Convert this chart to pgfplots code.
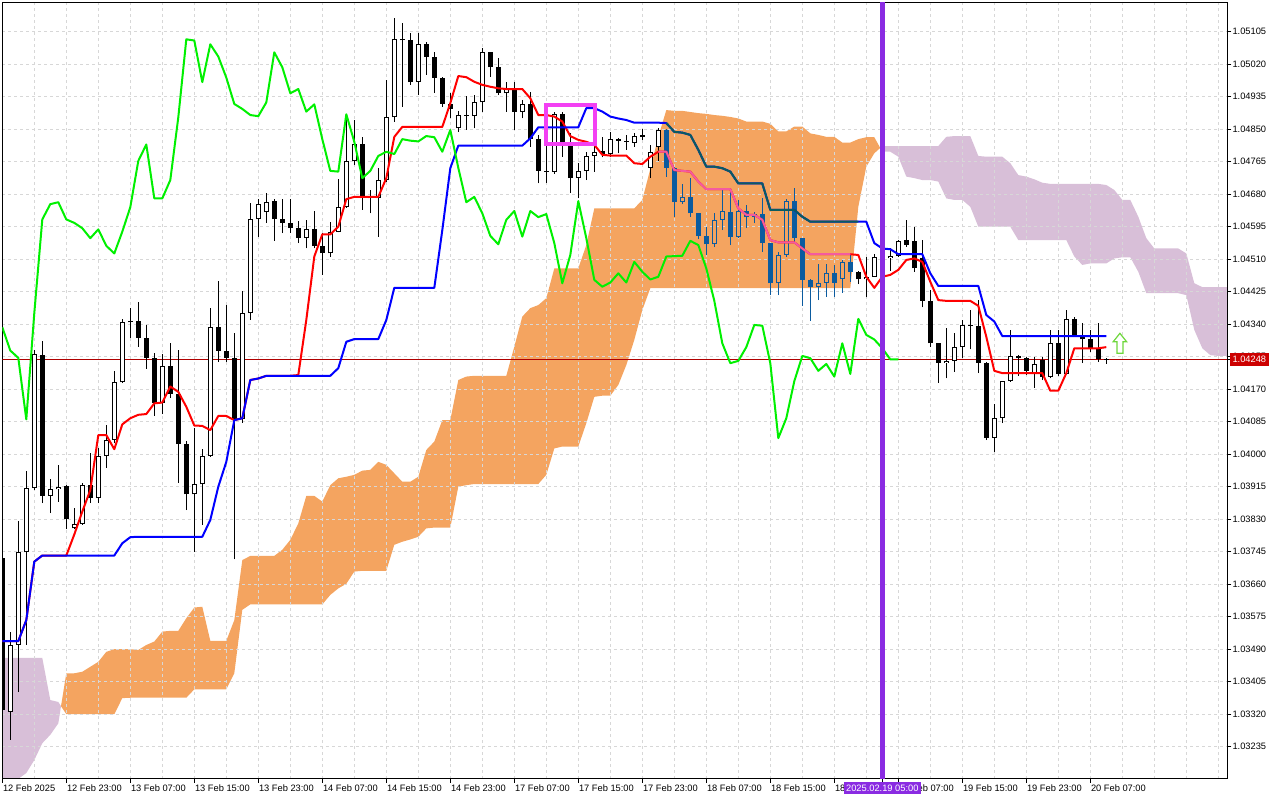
\documentclass[border=0pt]{standalone}
\usepackage{fontspec}
\setmainfont{Liberation Sans}
\usepackage{pgfplots}
\usepackage{pgfplotstable}
\pgfplotsset{compat=1.18}

\definecolor{sandy}{RGB}{244,164,96}
\definecolor{lav}{RGB}{216,191,216}
\definecolor{cblue}{RGB}{11,91,159}
\definecolor{pinkl}{RGB}{244,91,159}
\definecolor{teall}{RGB}{11,91,96}
\definecolor{chik}{RGB}{0,240,0}
\definecolor{vline}{RGB}{138,43,226}
\definecolor{rectm}{RGB}{243,64,243}
\definecolor{pline}{RGB}{175,0,0}
\definecolor{pbox}{RGB}{204,0,0}
\definecolor{gridc}{RGB}{215,215,215}
\definecolor{arrowg}{RGB}{110,215,60}

\pgfdeclareplotmark{uparrow}{%
  \pgfpathmoveto{\pgfqpoint{0pt}{10pt}}%
  \pgfpathlineto{\pgfqpoint{6.7pt}{1.6pt}}%
  \pgfpathlineto{\pgfqpoint{3pt}{1.6pt}}%
  \pgfpathlineto{\pgfqpoint{3pt}{-10pt}}%
  \pgfpathlineto{\pgfqpoint{-3pt}{-10pt}}%
  \pgfpathlineto{\pgfqpoint{-3pt}{1.6pt}}%
  \pgfpathlineto{\pgfqpoint{-6.7pt}{1.6pt}}%
  \pgfpathclose
  \pgfusepathqfillstroke}

% EURUSD H1 bullish candles (close >= open): bar, open, high, low, close
\pgfplotstableread{
k o h l c
1 1.03327 1.03536 1.03253 1.03501
2 1.03501 1.03825 1.03378 1.03743
3 1.03743 1.03956 1.03501 1.03911
4 1.03911 1.04273 1.03906 1.04261
6 1.03891 1.03935 1.03846 1.03908
7 1.03908 1.03972 1.03876 1.03915
9 1.03806 1.03859 1.03804 1.03817
10 1.03817 1.03925 1.03815 1.03919
12 1.03885 1.04016 1.03872 1.03995
13 1.03995 1.04076 1.03965 1.04037
14 1.04037 1.04218 1.04028 1.04188
15 1.04188 1.04354 1.04186 1.04345
20 1.04135 1.04262 1.04105 1.04231
24 1.03895 1.04069 1.03745 1.03921
25 1.03921 1.04014 1.03815 1.03995
26 1.03995 1.04382 1.03993 1.04332
30 1.04091 1.04427 1.04082 1.04369
31 1.04369 1.04656 1.04351 1.04614
32 1.04614 1.04667 1.04569 1.04654
33 1.04633 1.04682 1.04605 1.04659
38 1.04565 1.04612 1.04538 1.04588
41 1.04525 1.04608 1.04517 1.04582
42 1.04582 1.04720 1.04580 1.04646
43 1.04646 1.04887 1.04645 1.04767
44 1.04767 1.04874 1.04756 1.04810
47 1.04669 1.04748 1.04569 1.04717
48 1.04717 1.04979 1.04713 1.04881
49 1.04881 1.05140 1.04870 1.05085
52 1.04973 1.05101 1.04939 1.05072
57 1.04852 1.04898 1.04843 1.04887
59 1.04884 1.04939 1.04852 1.04920
60 1.04920 1.05063 1.04896 1.05051
63 1.04944 1.04974 1.04896 1.04955
65 1.04896 1.04926 1.04878 1.04915
69 1.04739 1.04896 1.04733 1.04889
72 1.04722 1.04761 1.04669 1.04741
73 1.04741 1.04791 1.04717 1.04780
74 1.04780 1.04817 1.04739 1.04791
76 1.04785 1.04843 1.04776 1.04824
79 1.04815 1.04839 1.04804 1.04832
81 1.04749 1.04809 1.04722 1.04791
82 1.04803 1.04852 1.04767 1.04848
85 1.04659 1.04707 1.04654 1.04673
89 1.04549 1.04630 1.04543 1.04613
90 1.04613 1.04691 1.04586 1.04636
92 1.04569 1.04665 1.04565 1.04636
94 1.04620 1.04634 1.04604 1.04628
97 1.04447 1.04530 1.04416 1.04521
98 1.04521 1.04667 1.04517 1.04662
102 1.04438 1.04497 1.04403 1.04449
103 1.04449 1.04497 1.04412 1.04473
105 1.04457 1.04508 1.04422 1.04503
108 1.04457 1.04517 1.04410 1.04464
109 1.04464 1.04523 1.04463 1.04517
110 1.04517 1.04535 1.04500 1.04518
111 1.04512 1.04538 1.04480 1.04519
112 1.04519 1.04560 1.04517 1.04558
118 1.04238 1.04329 1.04198 1.04244
119 1.04244 1.04316 1.04216 1.04280
120 1.04280 1.04351 1.04251 1.04338
124 1.04042 1.04131 1.04007 1.04094
125 1.04094 1.04192 1.04081 1.04191
126 1.04191 1.04325 1.04189 1.04257
129 1.04212 1.04255 1.04174 1.04236
131 1.04203 1.04325 1.04198 1.04290
133 1.04210 1.04377 1.04209 1.04354
}\bull

% bearish candles (close < open)
\pgfplotstableread{
k o h l c
0 1.03729 1.03734 1.03318 1.03331
5 1.04259 1.04296 1.03872 1.03891
8 1.03917 1.03920 1.03804 1.03830
11 1.03919 1.04003 1.03872 1.03885
16 1.04348 1.04382 1.04304 1.04345
17 1.04348 1.04397 1.04281 1.04305
18 1.04305 1.04338 1.04223 1.04252
19 1.04252 1.04265 1.04101 1.04135
21 1.04231 1.04291 1.04148 1.04157
22 1.04157 1.04273 1.03925 1.04026
23 1.04026 1.04035 1.03854 1.03895
27 1.04332 1.04453 1.04242 1.04271
28 1.04271 1.04390 1.04242 1.04252
29 1.04252 1.04317 1.03725 1.04091
34 1.04662 1.04667 1.04558 1.04614
35 1.04614 1.04667 1.04578 1.04605
36 1.04605 1.04667 1.04579 1.04591
37 1.04591 1.04611 1.04552 1.04565
39 1.04588 1.04636 1.04538 1.04545
40 1.04545 1.04578 1.04469 1.04525
45 1.04810 1.04830 1.04639 1.04669
46 1.04675 1.04691 1.04630 1.04669
50 1.05086 1.05127 1.04909 1.05082
51 1.05082 1.05101 1.04966 1.04973
53 1.05072 1.05079 1.04992 1.05040
54 1.05040 1.05053 1.04945 1.04985
55 1.04985 1.04986 1.04909 1.04916
56 1.04916 1.04944 1.04878 1.04903
58 1.04887 1.04937 1.04848 1.04884
61 1.05051 1.05053 1.04987 1.05012
62 1.05012 1.05035 1.04939 1.04944
64 1.04955 1.04974 1.04848 1.04896
66 1.04915 1.04948 1.04804 1.04824
67 1.04824 1.04835 1.04708 1.04741
68 1.04741 1.04822 1.04710 1.04739
70 1.04889 1.04896 1.04778 1.04817
71 1.04809 1.04839 1.04684 1.04722
75 1.04794 1.04829 1.04776 1.04785
77 1.04824 1.04827 1.04787 1.04820
78 1.04820 1.04835 1.04796 1.04818
80 1.04835 1.04850 1.04822 1.04829
83 1.04848 1.04850 1.04726 1.04749
84 1.04749 1.04752 1.04621 1.04659
86 1.04673 1.04722 1.04621 1.04630
87 1.04630 1.04631 1.04562 1.04571
88 1.04571 1.04595 1.04521 1.04549
91 1.04633 1.04691 1.04547 1.04569
93 1.04636 1.04652 1.04591 1.04620
95 1.04628 1.04669 1.04530 1.04552
96 1.04552 1.04553 1.04416 1.04447
99 1.04662 1.04695 1.04552 1.04565
100 1.04565 1.04566 1.04388 1.04456
101 1.04456 1.04458 1.04349 1.04438
104 1.04473 1.04495 1.04412 1.04449
106 1.04503 1.04521 1.04451 1.04477
107 1.04477 1.04479 1.04445 1.04457
113 1.04560 1.04613 1.04543 1.04547
114 1.04558 1.04595 1.04477 1.04486
115 1.04512 1.04560 1.04384 1.04401
116 1.04401 1.04429 1.04281 1.04290
117 1.04290 1.04292 1.04187 1.04238
121 1.04338 1.04377 1.04274 1.04336
122 1.04336 1.04403 1.04212 1.04238
123 1.04238 1.04242 1.04037 1.04042
127 1.04257 1.04259 1.04205 1.04251
128 1.04251 1.04255 1.04207 1.04218
130 1.04246 1.04255 1.04194 1.04203
132 1.04290 1.04325 1.04205 1.04210
134 1.04354 1.04360 1.04307 1.04312
135 1.04312 1.04342 1.04238 1.04300
136 1.04300 1.04325 1.04268 1.04277
137 1.04277 1.04342 1.04242 1.04248
138 1.04249 1.04251 1.04236 1.04248
}\bear

% Tenkan-sen (t) and Kijun-sen (j)
\pgfplotstableread{
k t j
0 1.03511 1.03511
1 1.03511 1.03511
2 1.03511 1.03511
3 1.03566 1.03566
4 1.03719 1.03719
5 1.03735 1.03735
6 1.03735 1.03735
7 1.03735 1.03735
8 1.03735 1.03735
9 1.03790 1.03735
10 1.03850 1.03735
11 1.03906 1.03735
12 1.04050 1.03735
13 1.04050 1.03735
14 1.04013 1.03735
15 1.04078 1.03767
16 1.04094 1.03783
17 1.04103 1.03784
18 1.04105 1.03784
19 1.04133 1.03784
20 1.04135 1.03784
21 1.04177 1.03784
22 1.04163 1.03784
23 1.04124 1.03784
24 1.04075 1.03784
25 1.04074 1.03784
26 1.04063 1.03828
27 1.04100 1.03915
28 1.04100 1.03980
29 1.04089 1.04089
30 1.04094 1.04094
31 1.04194 1.04194
32 1.04198 1.04198
33 1.04205 1.04205
34 1.04205 1.04205
35 1.04205 1.04205
36 1.04205 1.04205
37 1.04207 1.04205
38 1.04351 1.04205
39 1.04517 1.04205
40 1.04575 1.04205
41 1.04575 1.04205
42 1.04595 1.04225
43 1.04667 1.04294
44 1.04673 1.04301
45 1.04673 1.04301
46 1.04673 1.04301
47 1.04673 1.04301
48 1.04722 1.04351
49 1.04830 1.04435
50 1.04856 1.04435
51 1.04856 1.04435
52 1.04856 1.04435
53 1.04856 1.04435
54 1.04856 1.04435
55 1.04856 1.04586
56 1.04918 1.04748
57 1.04989 1.04807
58 1.04986 1.04807
59 1.04974 1.04807
60 1.04966 1.04807
61 1.04961 1.04807
62 1.04957 1.04807
63 1.04955 1.04807
64 1.04955 1.04807
65 1.04955 1.04807
66 1.04931 1.04826
67 1.04887 1.04855
68 1.04887 1.04855
69 1.04883 1.04855
70 1.04870 1.04855
71 1.04832 1.04855
72 1.04822 1.04855
73 1.04817 1.04905
74 1.04809 1.04905
75 1.04783 1.04896
76 1.04781 1.04883
77 1.04781 1.04878
78 1.04781 1.04874
79 1.04761 1.04867
80 1.04759 1.04867
81 1.04778 1.04867
82 1.04791 1.04867
83 1.04791 1.04866
84 1.04743 1.04843
85 1.04741 1.04841
86 1.04739 1.04835
87 1.04713 1.04796
88 1.04693 1.04752
89 1.04693 1.04752
90 1.04693 1.04748
91 1.04693 1.04739
92 1.04643 1.04708
93 1.04626 1.04708
94 1.04626 1.04708
95 1.04613 1.04708
96 1.04560 1.04639
97 1.04554 1.04639
98 1.04554 1.04639
99 1.04554 1.04639
100 1.04538 1.04621
101 1.04523 1.04608
102 1.04523 1.04608
103 1.04523 1.04608
104 1.04523 1.04608
105 1.04523 1.04608
106 1.04523 1.04608
107 1.04521 1.04608
108 1.04464 1.04608
109 1.04435 1.04552
110 1.04464 1.04538
111 1.04469 1.04536
112 1.04482 1.04523
113 1.04508 1.04523
114 1.04512 1.04523
115 1.04503 1.04523
116 1.04451 1.04473
117 1.04403 1.04440
118 1.04401 1.04440
119 1.04401 1.04440
120 1.04401 1.04440
121 1.04401 1.04440
122 1.04388 1.04440
123 1.04307 1.04364
124 1.04218 1.04347
125 1.04212 1.04309
126 1.04212 1.04309
127 1.04212 1.04309
128 1.04212 1.04309
129 1.04212 1.04309
130 1.04212 1.04309
131 1.04166 1.04309
132 1.04166 1.04309
133 1.04212 1.04309
134 1.04277 1.04309
135 1.04277 1.04309
136 1.04277 1.04309
137 1.04277 1.04309
138 1.04280 1.04309
}\tkline

% Chikou span (drawn 26 bars back)
\pgfplotstableread{
k v
0 1.04332
1 1.04271
2 1.04252
3 1.04091
4 1.04369
5 1.04614
6 1.04654
7 1.04659
8 1.04614
9 1.04605
10 1.04591
11 1.04565
12 1.04588
13 1.04545
14 1.04525
15 1.04582
16 1.04646
17 1.04767
18 1.04810
19 1.04669
20 1.04669
21 1.04717
22 1.04881
23 1.05085
24 1.05082
25 1.04973
26 1.05072
27 1.05040
28 1.04985
29 1.04916
30 1.04903
31 1.04887
32 1.04884
33 1.04920
34 1.05051
35 1.05012
36 1.04944
37 1.04955
38 1.04896
39 1.04915
40 1.04824
41 1.04741
42 1.04739
43 1.04889
44 1.04817
45 1.04722
46 1.04741
47 1.04780
48 1.04791
49 1.04785
50 1.04824
51 1.04820
52 1.04818
53 1.04832
54 1.04829
55 1.04791
56 1.04848
57 1.04749
58 1.04659
59 1.04673
60 1.04630
61 1.04571
62 1.04549
63 1.04613
64 1.04636
65 1.04569
66 1.04636
67 1.04620
68 1.04628
69 1.04552
70 1.04447
71 1.04521
72 1.04662
73 1.04565
74 1.04456
75 1.04438
76 1.04449
77 1.04473
78 1.04449
79 1.04503
80 1.04477
81 1.04457
82 1.04464
83 1.04517
84 1.04518
85 1.04519
86 1.04558
87 1.04547
88 1.04486
89 1.04401
90 1.04290
91 1.04238
92 1.04244
93 1.04280
94 1.04338
95 1.04336
96 1.04238
97 1.04042
98 1.04094
99 1.04191
100 1.04257
101 1.04251
102 1.04218
103 1.04236
104 1.04203
105 1.04290
106 1.04210
107 1.04354
108 1.04312
109 1.04300
110 1.04277
111 1.04248
112 1.04248
}\chikou

\pgfplotsset{
  cndl/.style 2 args={forget plot, draw=none, mark=none,
    /pgfplots/error bars/y dir=plus,
    /pgfplots/error bars/y explicit,
    /pgfplots/error bars/error mark=none,
    /pgfplots/error bars/error bar style={draw=#1, line width=#2, solid, line cap=butt}},
}

\newcommand{\candlegroup}[3]{%
  \addplot[restrict x to domain=#1, cndl={#2}{1pt}] table[x=k, y=l, y error plus expr={\thisrow{h}-\thisrow{l}}]{\bear};
  \addplot[restrict x to domain=#1, cndl={#2}{1pt}] table[x=k, y=l, y error plus expr={\thisrow{h}-\thisrow{l}}]{\bull};
  \addplot[restrict x to domain=#1, cndl={#2}{5pt}] table[x=k, y=c, y error plus expr={max(\thisrow{o}-\thisrow{c},0.00002)}]{\bear};
  \addplot[restrict x to domain=#1, cndl={#2}{5pt}] table[x=k, y=o, y error plus expr={max(\thisrow{c}-\thisrow{o},0.00002)}]{\bull};
  \addplot[restrict x to domain=#1, cndl={#3}{3pt}] table[x=k, y expr={\thisrow{o}+0.0000262}, y error plus expr={max(\thisrow{c}-\thisrow{o}-0.0000524,0)}]{\bull};
}

\begin{document}
\begin{tikzpicture}
\begin{axis}[
  set layers,
  clip mode=individual,
  at={(2.3pt,21pt)}, anchor=south west,
  scale only axis, width=1225pt, height=776.7pt,
  xmin=0, xmax=153.125, ymin=1.031505, ymax=1.051819,
  axis line style={black, line width=1pt},
  tick align=outside,
  xtick pos=left, ytick pos=right,
  xticklabel pos=left, yticklabel pos=right,
  major tick length=4pt, minor tick length=0pt,
  tick style={black, line width=1pt},
  xtick={0,8,...,136},
  xticklabels={12 Feb 2025,12 Feb 23:00,13 Feb 07:00,13 Feb 15:00,13 Feb 23:00,14 Feb 07:00,14 Feb 15:00,14 Feb 23:00,17 Feb 07:00,17 Feb 15:00,17 Feb 23:00,18 Feb 07:00,18 Feb 15:00,18 Feb 23:00,19 Feb 07:00,19 Feb 15:00,19 Feb 23:00,20 Feb 07:00},
  minor xtick={4,12,20,28,36,44,52,60,68,76,84,92,100,108,116,124,132,140,144,148,152},
  ytick={1.03235,1.03320,1.03405,1.03490,1.03575,1.03660,1.03745,1.03830,1.03915,1.04000,1.04085,1.04170,1.04255,1.04340,1.04425,1.04510,1.04595,1.04680,1.04765,1.04850,1.04935,1.05020,1.05105},
  yticklabels={1.03235,1.03320,1.03405,1.03490,1.03575,1.03660,1.03745,1.03830,1.03915,1.04000,1.04085,1.04170,1.04255,1.04340,1.04425,1.04510,1.04595,1.04680,1.04765,1.04850,1.04935,1.05020,1.05105},
  grid=both,
  major grid style={gridc, dash pattern=on 3pt off 3pt, line width=1pt},
  minor grid style={gridc, dash pattern=on 3pt off 3pt, line width=1pt},
  tick label style={font=\fontsize{9.3}{11}\selectfont, text=black},
  xticklabel style={anchor=north west, inner sep=0pt, xshift=0.5pt, yshift=-1.7pt},
  yticklabel style={anchor=west, inner sep=0pt, xshift=1pt},
  extra x ticks={110},
  extra x tick labels={2025.02.19 05:00},
  extra x tick style={grid=none,
    xticklabel style={anchor=north, fill=vline, text=white, inner xsep=2.5pt, inner ysep=2.5pt, xshift=-0.5pt, yshift=2.5pt}},
  extra y ticks={1.04248},
  extra y tick labels={1.04248},
  extra y tick style={grid=none,
    yticklabel style={fill=pbox, text=white, inner xsep=3pt, inner ysep=3.3pt, xshift=-3pt}},
]

% Ichimoku cloud (Senkou span A / span B, 26 bars ahead)
\addplot[on layer=axis background, fill=lav, draw=none, forget plot] coordinates {
(0,1.03467) (5,1.03467) (6,1.03357) (7,1.03352) (7.34,1.03341)
(7,1.03296) (6,1.03266) (5,1.03244) (4,1.03200) (3,1.03166) (2,1.03151) (1,1.03122) (0,1.03096)};
\addplot[on layer=axis background, fill=sandy, draw=none, forget plot] coordinates {
(7.34,1.03341) (8,1.03427) (9,1.03427) (10,1.03431) (11,1.03444) (12,1.03457) (13,1.03483) (14,1.03490) (16,1.03490) (17,1.03488) (18,1.03501) (19,1.03510) (20,1.03536) (21,1.03538) (22,1.03538) (23,1.03571) (24,1.03599) (25,1.03601) (26,1.03512) (28,1.03512) (29,1.03566) (30,1.03723) (31,1.03734) (34,1.03734) (35,1.03750) (36,1.03776) (37,1.03819) (38,1.03891) (39,1.03891) (40,1.03876) (41,1.03919) (42,1.03937) (43,1.03941) (44,1.03946) (45,1.03957) (46,1.03959) (47,1.03980) (48,1.03972) (49,1.03950) (50,1.03928) (51,1.03928) (52,1.03941) (53,1.04011) (54,1.04033) (55,1.04089) (56,1.04089) (57,1.04194) (58,1.04203) (59,1.04205) (63,1.04205) (64,1.04281) (65,1.04360) (66,1.04382) (67,1.04390) (68,1.04408) (69,1.04486) (72,1.04486) (73,1.04547) (74,1.04643) (79,1.04643) (80,1.04665) (81,1.04746) (82,1.04830) (83,1.04900) (84,1.04898) (85,1.04898) (86,1.04895) (87,1.04892) (88,1.04890) (89,1.04887) (90,1.04885) (91,1.04882) (92,1.04878) (93,1.04870) (95,1.04870) (96,1.04864) (97,1.04844) (98,1.04844) (99,1.04857) (100,1.04857) (101,1.04839) (102,1.04835) (103,1.04830) (104,1.04830) (105,1.04815) (106,1.04815) (107,1.04824) (108,1.04829) (109,1.04829) (109.74,1.04801)
(109,1.04787) (108,1.04752) (107,1.04647) (106,1.04434) (81,1.04434) (80,1.04377) (79,1.04299) (78,1.04233) (77,1.04181) (76,1.04153) (75,1.04153) (74,1.04150) (73,1.04081) (72,1.04020) (70,1.04020) (69,1.04015) (68,1.03946) (67,1.03922) (59,1.03922) (58,1.03919) (57,1.03915) (56,1.03808) (54,1.03808) (53,1.03806) (52,1.03784) (51,1.03777) (50,1.03771) (49,1.03763) (48,1.03695) (45,1.03695) (44,1.03693) (43,1.03661) (42,1.03649) (41,1.03632) (40,1.03607) (31,1.03607) (30,1.03593) (29,1.03427) (28,1.03385) (24,1.03385) (23,1.03363) (16,1.03363) (15,1.03362) (14,1.03320) (8,1.03320)};
\addplot[on layer=axis background, fill=lav, draw=none, forget plot] coordinates {
(109.74,1.04801) (110,1.04806) (117,1.04806) (118,1.04830) (119,1.04832) (121,1.04832) (122,1.04780) (123,1.04778) (125,1.04778) (126,1.04761) (127,1.04730) (128,1.04726) (129,1.04719) (130,1.04710) (131,1.04707) (137,1.04707) (138,1.04704) (139,1.04691) (140,1.04665) (141,1.04665) (142,1.04621) (143,1.04565) (144,1.04538) (147,1.04538) (148,1.04525) (149,1.04447) (150,1.04437) (154,1.04437)
(154,1.04257) (152,1.04257) (151,1.04259) (150,1.04277) (149,1.04325) (148,1.04416) (147,1.04421) (143,1.04421) (142,1.04477) (141,1.04515) (140,1.04515) (139,1.04512) (138,1.04499) (136,1.04499) (135,1.04495) (134,1.04517) (133,1.04560) (127,1.04560) (126,1.04595) (122,1.04595) (121,1.04647) (120,1.04665) (119,1.04665) (118,1.04669) (117,1.04713) (116,1.04717) (115,1.04717) (114,1.04722) (113,1.04726) (112,1.04778) (111,1.04791) (110,1.04791)};

% current price line
\addplot[pline, line width=1pt, forget plot] coordinates {(0,1.04248) (153.125,1.04248)};

% candles
\candlegroup{-1:82.5}{black}{white}
\candlegroup{82.5:106.5}{cblue}{sandy}
\candlegroup{106.5:140}{black}{white}

% Tenkan and Kijun
\addplot[red, line width=2pt, line join=round, forget plot] table[x=k, y=t]{\tkline};
\addplot[blue, line width=2pt, line join=round, forget plot] table[x=k, y=j]{\tkline};
\addplot[pinkl, line width=2pt, line join=round, forget plot, restrict x to domain=82:106] table[x=k, y=t]{\tkline};
\addplot[teall, line width=2pt, line join=round, forget plot, restrict x to domain=83:107] table[x=k, y=j]{\tkline};

% Chikou
\addplot[chik, line width=2pt, line join=round, forget plot] table[x=k, y=v]{\chikou};

% vertical marker line
\addplot[vline, line width=5pt, forget plot] coordinates {(110,1.031505) (110,1.051819)};

% rectangle annotation
\addplot[rectm, line width=4pt, line join=miter, forget plot] coordinates {(67.96,1.04913) (74.09,1.04913) (74.09,1.04811) (67.96,1.04811) (67.96,1.04913) (74.09,1.04913)};

% arrow
\addplot[only marks, mark=uparrow, mark options={draw=arrowg, fill=white, line width=1.2pt, solid}, forget plot] coordinates {(139.7,1.04290)};

\end{axis}
\pgfresetboundingbox
\path[use as bounding box] (0,0) rectangle (1280pt,800pt);
\end{tikzpicture}
\end{document}
